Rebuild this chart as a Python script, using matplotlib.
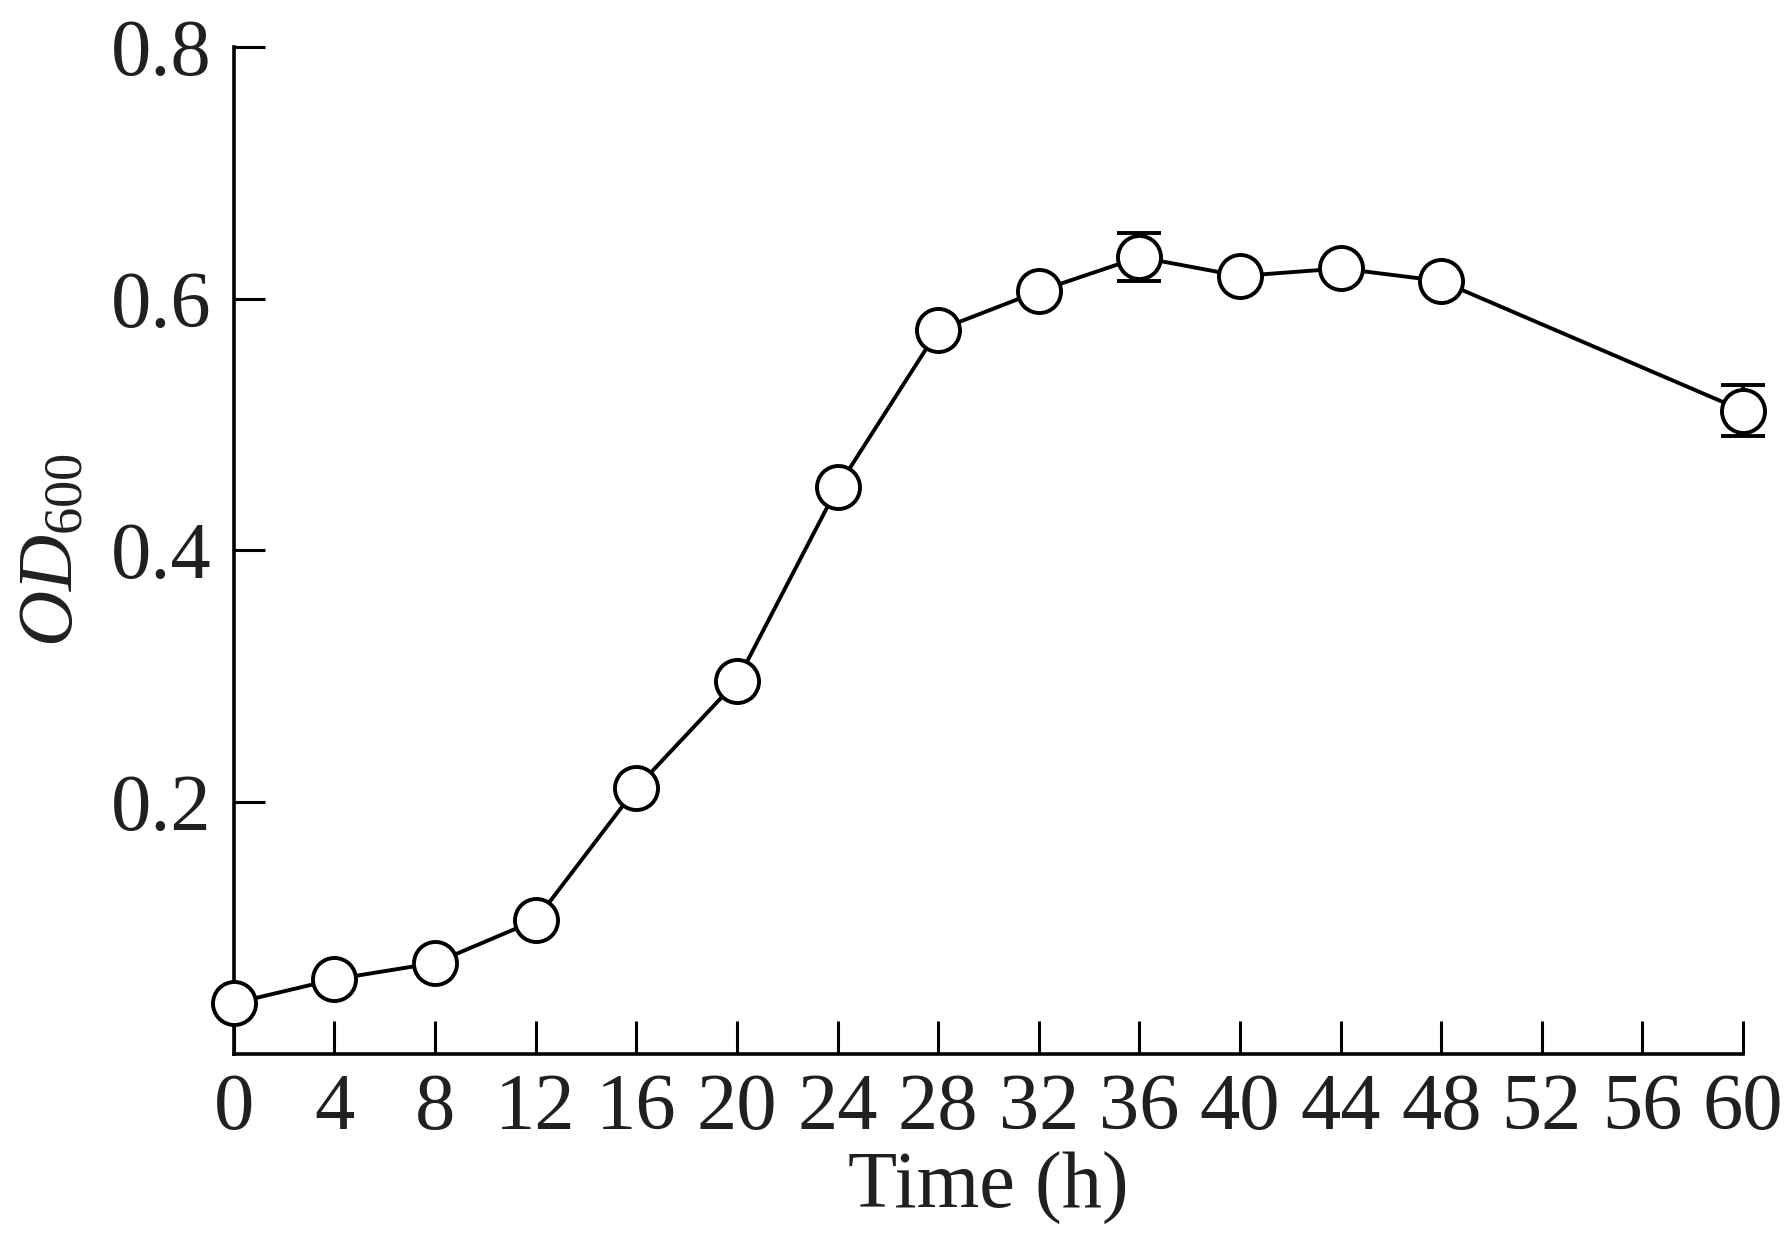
import matplotlib
matplotlib.use("Agg")
import matplotlib.pyplot as plt
import numpy as np

time_h = [0, 4, 8, 12, 16, 20, 24, 28, 32, 36, 40, 44, 48, 60]
od600 = [0.040, 0.059, 0.072, 0.106, 0.211, 0.296, 0.450, 0.575, 0.606, 0.633, 0.618, 0.624, 0.614, 0.511]
od_err = [0, 0, 0, 0, 0, 0, 0, 0, 0, 0.019, 0, 0, 0, 0.020]
x_ticks = list(range(0, 61, 4))
y_ticks = [0.2, 0.4, 0.6, 0.8]

plt.rcParams['font.family'] = ['Liberation Serif', 'DejaVu Serif']
plt.rcParams['mathtext.fontset'] = 'custom'
plt.rcParams['mathtext.rm'] = 'Liberation Serif'
plt.rcParams['mathtext.it'] = 'Liberation Serif:italic'

text_color = '#231f20'
fig = plt.figure(figsize=(17.85, 12.38), dpi=100)
ax = fig.add_axes([0.131, 0.149, 0.8455, 0.813])

x = np.array(time_h)
y = np.array(od600)
e = np.array(od_err)
m = e > 0
ax.errorbar(x[m], y[m], yerr=e[m], fmt='none', ecolor='black', elinewidth=2.8,
            capsize=16, capthick=2.8, clip_on=False, zorder=2)
ax.plot(x, y, '-', color='black', lw=2.8, marker='o', markersize=31,
        markerfacecolor='white', markeredgecolor='black', markeredgewidth=2.8,
        clip_on=False, zorder=3)

ax.set_xlim(0, 60)
ax.set_ylim(0, 0.8)
ax.set_xticks(x_ticks)
ax.set_xticklabels([str(t) for t in x_ticks])
ax.set_yticks(y_ticks)
ax.set_yticklabels([f'{t:.1f}' for t in y_ticks])

for s in ['top', 'right']:
    ax.spines[s].set_visible(False)
for s in ['left', 'bottom']:
    ax.spines[s].set_linewidth(2.6)

ax.tick_params(axis='x', direction='in', length=24, width=2.2, labelsize=58,
               pad=14, labelcolor=text_color)
ax.tick_params(axis='y', direction='in', length=22, width=2.2, labelsize=58,
               pad=16, labelcolor=text_color)

ax.set_xlabel('Time (h)', fontsize=58, color=text_color, labelpad=4)
ax.set_ylabel(r'$OD_{600}$', fontsize=56, color=text_color, labelpad=16)

fig.savefig('out.png', dpi=100)
